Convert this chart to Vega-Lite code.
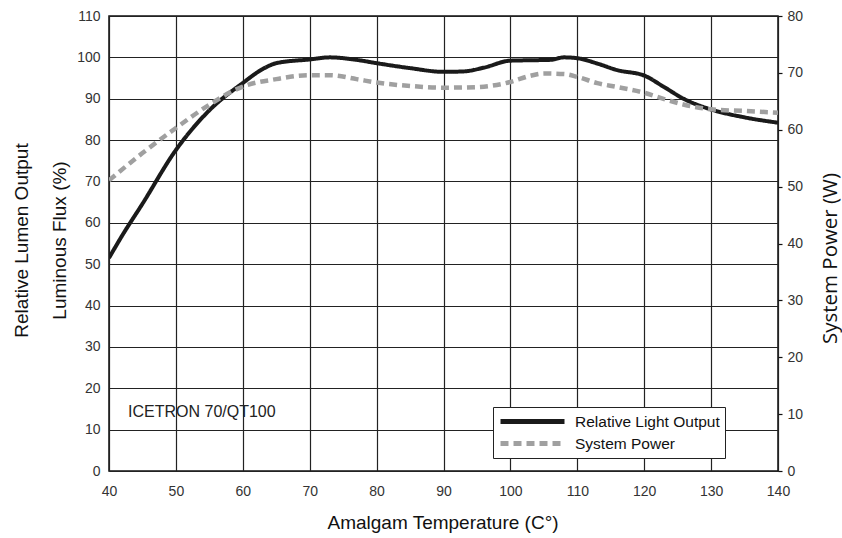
{
  "$schema": "https://vega.github.io/schema/vega-lite/v6.json",
  "autosize": {"type": "none"},
  "padding": {"left": 109, "top": 16, "right": 64, "bottom": 67},
  "width": 669,
  "height": 455,
  "background": "white",
  "config": {
    "view": {"stroke": "#111", "strokeWidth": 1.5},
    "font": "Liberation Sans",
    "axis": {"labelFont": "Liberation Sans", "labelFontSize": 14, "labelColor": "#333", "labelFlush": false, "titleFont": "Liberation Sans", "titleFontWeight": "normal", "titleColor": "#111"}
  },
  "datasets": {
    "curves": [
      {"t": 40, "series": "Relative Light Output", "v": 51.5},
      {"t": 42, "series": "Relative Light Output", "v": 57},
      {"t": 45, "series": "Relative Light Output", "v": 64.6},
      {"t": 50, "series": "Relative Light Output", "v": 77.6},
      {"t": 55, "series": "Relative Light Output", "v": 87.2},
      {"t": 60, "series": "Relative Light Output", "v": 93.8},
      {"t": 63, "series": "Relative Light Output", "v": 97.2},
      {"t": 65, "series": "Relative Light Output", "v": 98.6},
      {"t": 70, "series": "Relative Light Output", "v": 99.5},
      {"t": 73, "series": "Relative Light Output", "v": 100},
      {"t": 77, "series": "Relative Light Output", "v": 99.4},
      {"t": 80, "series": "Relative Light Output", "v": 98.6},
      {"t": 85, "series": "Relative Light Output", "v": 97.4},
      {"t": 90, "series": "Relative Light Output", "v": 96.5},
      {"t": 93, "series": "Relative Light Output", "v": 96.6},
      {"t": 96, "series": "Relative Light Output", "v": 97.5},
      {"t": 100, "series": "Relative Light Output", "v": 99.2},
      {"t": 103, "series": "Relative Light Output", "v": 99.3},
      {"t": 106, "series": "Relative Light Output", "v": 99.4},
      {"t": 108, "series": "Relative Light Output", "v": 100},
      {"t": 110, "series": "Relative Light Output", "v": 99.8},
      {"t": 113, "series": "Relative Light Output", "v": 98.5},
      {"t": 116, "series": "Relative Light Output", "v": 96.9},
      {"t": 120, "series": "Relative Light Output", "v": 95.6},
      {"t": 123, "series": "Relative Light Output", "v": 92.8},
      {"t": 126, "series": "Relative Light Output", "v": 89.9},
      {"t": 130, "series": "Relative Light Output", "v": 87.4},
      {"t": 135, "series": "Relative Light Output", "v": 85.5},
      {"t": 140, "series": "Relative Light Output", "v": 84.2},
      {"t": 40, "series": "System Power", "v": 51.1},
      {"t": 45, "series": "System Power", "v": 55.9},
      {"t": 50, "series": "System Power", "v": 60.3},
      {"t": 55, "series": "System Power", "v": 64.4},
      {"t": 60, "series": "System Power", "v": 67.6},
      {"t": 65, "series": "System Power", "v": 68.9},
      {"t": 70, "series": "System Power", "v": 69.6},
      {"t": 73, "series": "System Power", "v": 69.6},
      {"t": 77, "series": "System Power", "v": 68.9},
      {"t": 80, "series": "System Power", "v": 68.3},
      {"t": 85, "series": "System Power", "v": 67.7},
      {"t": 90, "series": "System Power", "v": 67.4},
      {"t": 95, "series": "System Power", "v": 67.5},
      {"t": 100, "series": "System Power", "v": 68.4},
      {"t": 103, "series": "System Power", "v": 69.5},
      {"t": 105, "series": "System Power", "v": 69.9},
      {"t": 108, "series": "System Power", "v": 69.8},
      {"t": 110, "series": "System Power", "v": 69.3},
      {"t": 113, "series": "System Power", "v": 68.2},
      {"t": 116, "series": "System Power", "v": 67.5},
      {"t": 120, "series": "System Power", "v": 66.5},
      {"t": 123, "series": "System Power", "v": 65.4},
      {"t": 126, "series": "System Power", "v": 64.4},
      {"t": 130, "series": "System Power", "v": 63.6},
      {"t": 135, "series": "System Power", "v": 63.3},
      {"t": 140, "series": "System Power", "v": 63.0}
    ],
    "notes": [
      {"t": 42.85, "v": 14.3, "label": "ICETRON 70/QT100"}
    ]
  },
  "layer": [
    {
      "layer": [
        {
          "data": {"name": "curves"},
          "transform": [{"filter": "datum.series === 'Relative Light Output'"}],
          "mark": {"type": "line", "interpolate": "monotone", "strokeWidth": 4, "clip": true},
          "encoding": {
            "x": {"field": "t", "type": "quantitative",
              "scale": {"domain": [40, 140], "nice": false, "zero": false},
              "axis": {"values": [40, 50, 60, 70, 80, 90, 100, 110, 120, 130, 140], "ticks": false, "domain": false, "labelPadding": 13, "grid": true, "gridColor": "#222", "gridWidth": 1.2, "gridOpacity": 1,
                "title": "Amalgam Temperature (C°)", "titleFontSize": 19, "titleX": 333.5, "titleY": 51, "titleBaseline": "middle", "titleAlign": "center"}},
            "y": {"field": "v", "type": "quantitative",
              "scale": {"domain": [0, 110], "nice": false},
              "axis": {"orient": "left", "values": [0, 10, 20, 30, 40, 50, 60, 70, 80, 90, 100, 110], "ticks": false, "domain": false, "labelPadding": 9, "grid": true, "gridColor": "#222", "gridWidth": 1.2, "gridOpacity": 1,
                "title": ["Relative Lumen Output", "Luminous Flux (%)"], "titleFontSize": 19, "titleLineHeight": 38, "titleAngle": -90, "titleAlign": "center", "titleBaseline": "top", "titleX": -97, "titleY": 224}},
            "color": {"field": "series", "type": "nominal",
              "scale": {"domain": ["Relative Light Output", "System Power"], "range": ["#1a1a1a", "#a0a0a0"]},
              "legend": {"title": null, "orient": "none", "legendX": 384, "legendY": 391, "symbolType": "stroke", "symbolSize": 4096, "symbolStrokeWidth": 5, "clipHeight": 19, "labelFont": "Liberation Sans", "labelFontSize": 15.5, "labelColor": "#111", "labelOffset": 8, "padding": 5, "rowPadding": 3, "strokeColor": "#222", "fillColor": "white"}},
            "strokeDash": {"field": "series", "type": "nominal",
              "scale": {"domain": ["Relative Light Output", "System Power"], "range": [[1, 0], [8, 5]]},
              "legend": null}
          }
        },
        {
          "data": {"name": "notes"},
          "mark": {"type": "text", "align": "left", "baseline": "middle", "fontSize": 16, "font": "Liberation Sans", "color": "#222"},
          "encoding": {
            "x": {"field": "t", "type": "quantitative"},
            "y": {"field": "v", "type": "quantitative"},
            "text": {"field": "label"}
          }
        }
      ]
    },
    {
      "data": {"name": "curves"},
      "transform": [{"filter": "datum.series === 'System Power'"}],
      "mark": {"type": "line", "interpolate": "monotone", "strokeWidth": 4.5, "clip": true},
      "encoding": {
        "x": {"field": "t", "type": "quantitative"},
        "y": {"field": "v", "type": "quantitative",
          "scale": {"domain": [0, 80], "nice": false},
          "axis": {"orient": "right", "values": [0, 10, 20, 30, 40, 50, 60, 70, 80], "ticks": true, "tickSize": 4, "tickColor": "#111", "tickWidth": 1.2, "domain": false, "labelPadding": 5, "grid": false,
            "title": "System Power (W)", "titleFont": "Open Sans", "titleFontSize": 20.5, "titleAngle": -90, "titleAlign": "center", "titleBaseline": "middle", "titleX": 52, "titleY": 242}},
        "color": {"field": "series", "type": "nominal"},
        "strokeDash": {"field": "series", "type": "nominal"}
      }
    }
  ],
  "resolve": {"scale": {"y": "independent"}}
}
